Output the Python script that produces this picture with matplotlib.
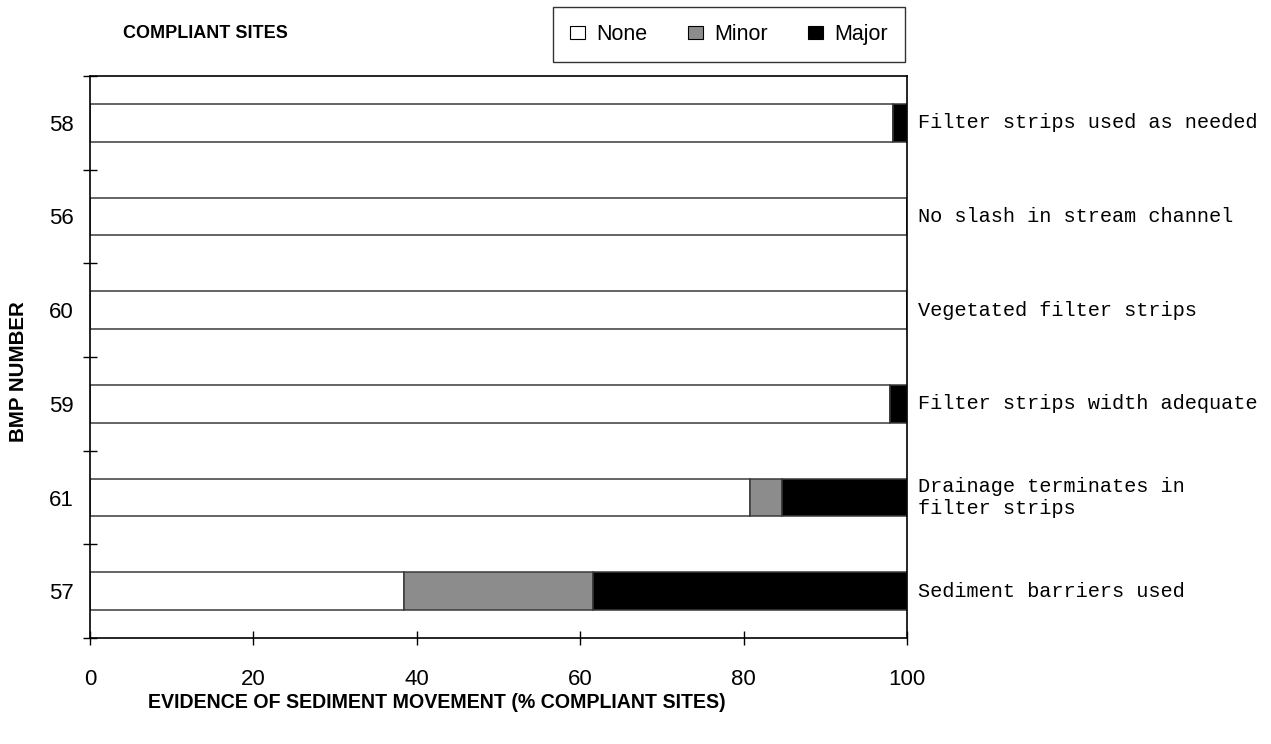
import numpy as np
import matplotlib
matplotlib.use("Agg")
import matplotlib.pyplot as plt
import matplotlib.patches as patches

# BMP rows, top to bottom
bmp_numbers = ["58", "56", "60", "59", "61", "57"]
bmp_names = [
    "Filter strips used as needed",
    "No slash in stream channel",
    "Vegetated filter strips",
    "Filter strips width adequate",
    "Drainage terminates in\nfilter strips",
    "Sediment barriers used",
]
pct_none = [98.3, 100.0, 100.0, 97.9, 80.8, 38.4]
pct_minor = [0.0, 0.0, 0.0, 0.0, 3.9, 23.2]
pct_major = [1.7, 0.0, 0.0, 2.1, 15.3, 38.4]

series_names = ["None", "Minor", "Major"]
series_colors = ["white", "#8c8c8c", "black"]

plt.rcParams['font.family'] = ['Liberation Sans', 'DejaVu Sans']

fig = plt.figure(figsize=(12.71, 7.44), dpi=100)
ax = fig.add_axes([90/1271, 1 - 638/744, 817/1271, 562/744])

y = np.arange(len(bmp_numbers))
left = np.zeros(len(bmp_numbers))
for vals, col in zip([pct_none, pct_minor, pct_major], series_colors):
    vals = np.array(vals)
    ax.barh(y, vals, left=left, height=0.4, color=col, edgecolor="#3a3a3a", linewidth=1.1)
    left = left + vals

ax.set_xlim(0, 100)
ax.set_ylim(len(bmp_numbers) - 0.5, -0.5)
ax.set_xticks(np.arange(0, 101, 20))
ax.set_yticks(y)
ax.set_yticklabels(bmp_numbers)
ax.set_yticks(np.arange(-0.5, len(bmp_numbers)), minor=True)
ax.tick_params(axis='y', which='major', length=0, pad=12, labelsize=16)
ax.tick_params(axis='y', which='minor', direction='inout', length=10, width=1)
ax.tick_params(axis='x', direction='inout', length=10, width=1, pad=17, labelsize=16)
for s in ax.spines.values():
    s.set_linewidth(1.2)
    s.set_color("black")

# right-hand BMP descriptions
for yi, name in zip(y, bmp_names):
    ax.text(101.3, yi, name, va='center', ha='left', fontsize=14.6,
            family=['Liberation Mono', 'DejaVu Sans Mono'], linespacing=1.2)

fig.text(437/1271, 1 - 702/744, "EVIDENCE OF SEDIMENT MOVEMENT (% COMPLIANT SITES)",
         ha='center', va='center', fontsize=14.1, fontweight='bold')
fig.text(19/1271, 1 - 372/744, "BMP NUMBER", rotation=90,
         ha='center', va='center', fontsize=14.8, fontweight='bold')
fig.text(123/1271, 1 - 34/744, "COMPLIANT SITES", ha='left', va='center',
         fontsize=13, fontweight='bold')

handles = [patches.Patch(facecolor=c, edgecolor='black', linewidth=0.8) for c in series_colors]
leg = fig.legend(handles, series_names, loc='upper right', bbox_to_anchor=(905/1271, 1 - 7/744),
                 ncol=3, fontsize=15.5, frameon=True, fancybox=False, handlelength=0.7,
                 handleheight=0.55, handletextpad=0.5, columnspacing=1.9, borderpad=0.8,
                 borderaxespad=0)
leg.get_frame().set_edgecolor('black')
leg.get_frame().set_linewidth(1.0)

fig.savefig("out.png", dpi=100)
